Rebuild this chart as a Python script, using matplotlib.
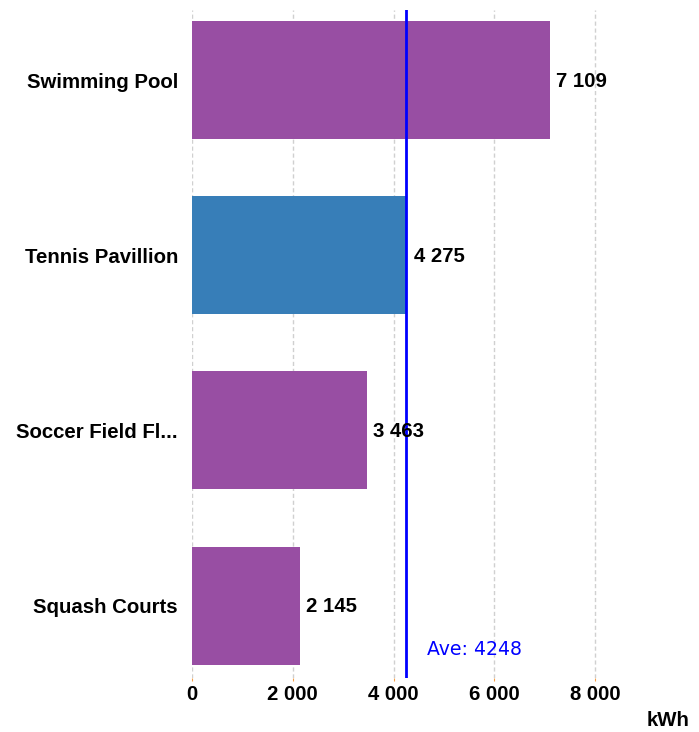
import matplotlib
matplotlib.use("Agg")
import matplotlib.pyplot as plt

categories = ["Swimming Pool", "Tennis Pavillion", "Soccer Field Fl...", "Squash Courts"]
values = [7109, 4275, 3463, 2145]
colors = ["#984EA3", "#377EB8", "#984EA3", "#984EA3"]
average = 4248
xticks = [0, 2000, 4000, 6000, 8000]
xlabel = "kWh"

def fmt(v):
    return f"{v:,}".replace(",", " ")

FS = 14.7
fig = plt.figure(figsize=(6.99, 7.32), dpi=100)
ax = fig.add_axes([192/699, 1-678/732, 504/699, 668/732])

y = list(range(len(categories)))
ax.barh(y, values, height=0.674, color=colors, zorder=2)
ax.set_ylim(3.413, -0.4)
ax.set_xlim(0, 10000)

ax.set_xticks(xticks)
ax.set_xticklabels([fmt(t) for t in xticks], fontfamily="Liberation Sans",
                   fontweight="bold", fontsize=FS)
ax.tick_params(axis="x", length=2, color="#f5a04a", pad=3)
ax.set_yticks(y)
ax.set_yticklabels(categories, fontfamily="Liberation Sans", fontweight="bold", fontsize=FS)
ax.tick_params(axis="y", length=0, pad=10)

ax.grid(axis="x", color="#d0d0d0", linestyle=(0, (3, 2)), linewidth=1, zorder=0)
ax.set_axisbelow(True)
for s in ax.spines.values():
    s.set_visible(False)

for yi, v in zip(y, values):
    ax.text(v + 120, yi + 0.006, fmt(v), va="center", ha="left", fontfamily="Liberation Sans",
            fontweight="bold", fontsize=FS, zorder=4)

ax.axvline(average, color="#0000ff", linewidth=2, zorder=3)
ax.text(average + 420, 3.25, f"Ave: {average}", color="#0000ff", fontsize=13.6,
        fontfamily="DejaVu Sans", va="center", ha="left")

fig.text(690/699, 1-720/732, xlabel, ha="right", va="center", fontfamily="Liberation Sans",
         fontweight="bold", fontsize=FS)

fig.savefig("out.png", dpi=100)
